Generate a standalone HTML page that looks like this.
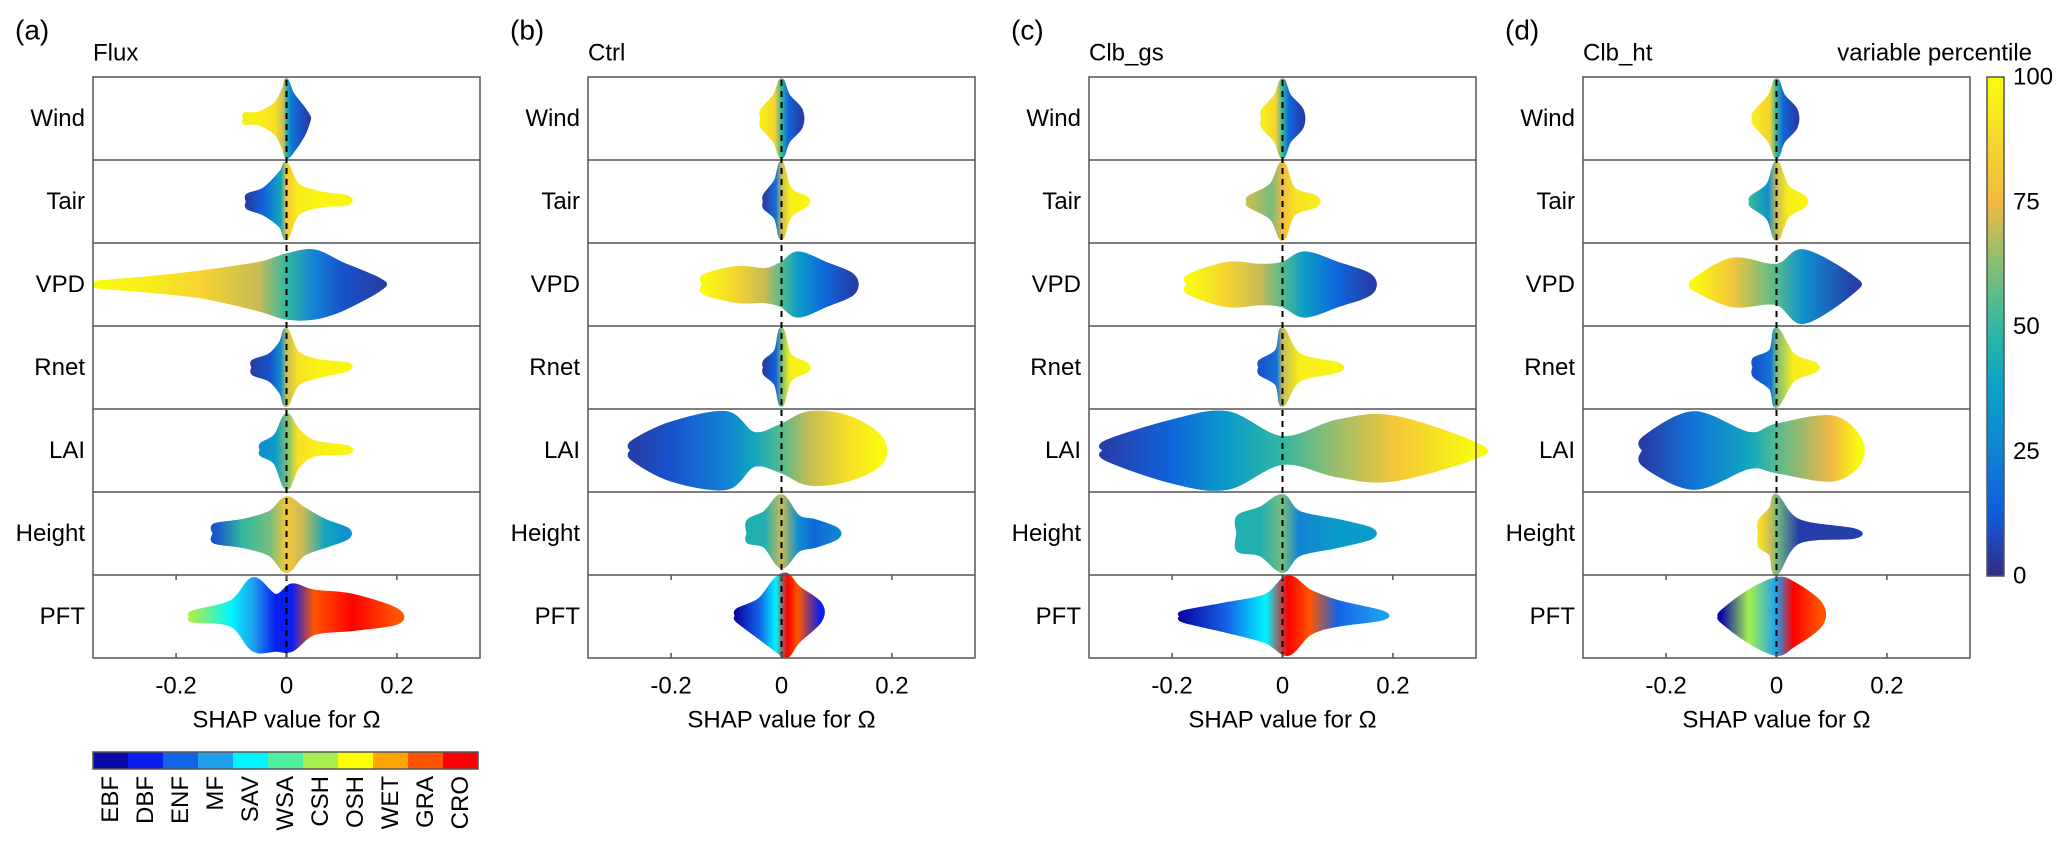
<!DOCTYPE html>
<html><head><meta charset="utf-8"><style>
body{margin:0;background:#fff;}
svg{display:block;font-family:"Liberation Sans",Arial,sans-serif;}
</style></head><body>
<svg id="fig" width="2067" height="849" viewBox="0 0 2067 849" xmlns="http://www.w3.org/2000/svg">
<defs id="defs"></defs>
</svg>
<script>
const features=["Wind","Tair","VPD","Rnet","LAI","Height","PFT"];
const panelTitles=["Flux","Ctrl","Clb_gs","Clb_ht"];
const panelTags=["(a)","(b)","(c)","(d)"];
const xTicks=[-0.2,0,0.2];
const xTickLabels=["-0.2","0","0.2"];
const cbTicks=[0,25,50,75,100];
const pftNames=["EBF","DBF","ENF","MF","SAV","WSA","CSH","OSH","WET","GRA","CRO"];
const pftColors=["#0a0aa8","#0a1ef0","#1464e6","#1ea0ee","#00f4ff","#50eea0","#a6f050","#ffff00","#ffa500","#ff5500","#ff0000"];
const shapX=[
 [[-0.075,-0.05,-0.02,-0.005,0,0.01,0.03,0.04],[-0.07,-0.04,-0.01,0,0.02,0.06,0.11],[-0.34,-0.25,-0.15,-0.05,0,0.05,0.1,0.17],[-0.06,-0.03,-0.01,0,0.02,0.06,0.11],[-0.045,-0.02,0,0.02,0.05,0.11],[-0.13,-0.08,-0.03,0,0.03,0.07,0.11],[-0.17,-0.1,-0.06,-0.02,0.01,0.05,0.12,0.2]],
 [[-0.035,-0.012,0,0.012,0.035],[-0.03,-0.01,0,0.015,0.045],[-0.14,-0.08,-0.03,0,0.03,0.08,0.13],[-0.03,-0.01,0,0.015,0.045],[-0.27,-0.2,-0.1,-0.05,0,0.05,0.12,0.18],[-0.06,-0.03,0,0.03,0.06,0.1],[-0.08,-0.04,-0.01,0.01,0.03,0.07]],
 [[-0.035,-0.012,0,0.012,0.035],[-0.06,-0.02,0,0.02,0.06],[-0.17,-0.1,-0.04,0,0.04,0.1,0.16],[-0.04,-0.01,0,0.03,0.1],[-0.32,-0.2,-0.1,0,0.1,0.2,0.35],[-0.08,-0.04,0,0.03,0.1,0.16],[-0.18,-0.1,-0.03,0.01,0.05,0.1,0.18]],
 [[-0.04,-0.012,0,0.012,0.035],[-0.045,-0.015,0,0.02,0.05],[-0.15,-0.08,0,0.05,0.14],[-0.04,-0.01,0,0.03,0.07],[-0.24,-0.15,-0.05,0,0.1,0.15],[-0.03,-0.01,0,0.04,0.14],[-0.1,-0.05,0,0.03,0.08]]
];
const shapUp=[
 [[0.1,0.12,0.35,0.7,0.92,0.6,0.25,0.05],[0.15,0.3,0.7,0.9,0.4,0.2,0.1],[0.05,0.15,0.3,0.5,0.7,0.8,0.5,0.1],[0.15,0.3,0.6,0.9,0.35,0.15,0.08],[0.15,0.35,0.85,0.5,0.2,0.08],[0.2,0.3,0.5,0.85,0.6,0.3,0.1],[0.1,0.35,0.9,0.5,0.75,0.6,0.5,0.15]],
 [[0.2,0.55,0.92,0.55,0.2],[0.15,0.5,0.92,0.3,0.08],[0.2,0.4,0.35,0.5,0.75,0.5,0.2],[0.15,0.4,0.92,0.3,0.08],[0.2,0.65,0.9,0.4,0.6,0.9,0.8,0.3],[0.3,0.5,0.9,0.4,0.3,0.1],[0.15,0.4,0.9,1.0,0.7,0.3]],
 [[0.2,0.55,0.92,0.55,0.2],[0.1,0.4,0.92,0.3,0.1],[0.2,0.5,0.45,0.5,0.75,0.5,0.2],[0.15,0.4,0.92,0.3,0.08],[0.2,0.7,0.9,0.3,0.7,0.8,0.15],[0.4,0.6,0.9,0.5,0.3,0.1],[0.1,0.3,0.5,0.95,0.6,0.35,0.1]],
 [[0.12,0.55,0.92,0.55,0.2],[0.1,0.4,0.92,0.35,0.1],[0.1,0.6,0.45,0.8,0.15],[0.2,0.4,0.92,0.3,0.08],[0.3,0.9,0.4,0.6,0.8,0.3],[0.3,0.6,0.9,0.3,0.08],[0.1,0.6,0.9,0.8,0.3]]
];
const shapDn=[
 [[0.1,0.12,0.35,0.7,0.92,0.8,0.4,0.05],[0.15,0.3,0.6,0.88,0.3,0.1,0.05],[0.05,0.15,0.3,0.6,0.8,0.8,0.6,0.1],[0.15,0.3,0.6,0.9,0.4,0.2,0.05],[0.1,0.3,0.9,0.4,0.1,0.05],[0.2,0.3,0.5,0.9,0.5,0.3,0.1],[0.1,0.2,0.8,0.8,0.8,0.4,0.3,0.15]],
 [[0.2,0.55,0.92,0.55,0.2],[0.15,0.4,0.88,0.35,0.08],[0.2,0.4,0.4,0.5,0.75,0.5,0.2],[0.15,0.4,0.9,0.3,0.08],[0.2,0.7,0.9,0.35,0.5,0.8,0.7,0.3],[0.2,0.3,0.8,0.4,0.3,0.1],[0.1,0.5,0.8,0.95,0.6,0.1]],
 [[0.2,0.55,0.92,0.55,0.2],[0.1,0.4,0.9,0.3,0.1],[0.2,0.5,0.45,0.5,0.75,0.5,0.2],[0.15,0.4,0.9,0.3,0.08],[0.2,0.75,0.9,0.3,0.6,0.7,0.15],[0.4,0.5,0.9,0.5,0.3,0.1],[0.1,0.35,0.6,0.9,0.4,0.2,0.05]],
 [[0.12,0.55,0.92,0.55,0.2],[0.1,0.4,0.9,0.35,0.1],[0.1,0.5,0.45,0.9,0.15],[0.2,0.5,0.92,0.3,0.08],[0.35,0.9,0.4,0.5,0.7,0.3],[0.3,0.5,0.95,0.2,0.08],[0.1,0.6,0.9,0.7,0.2]]
];
const shapColor=[
 [[95,95,90,70,45,20,8,5],[5,15,40,80,95,98,98],[100,95,85,70,50,25,10,5],[5,10,30,70,90,98,98],[30,35,60,90,95,98],[10,50,60,80,70,40,30],[6,4,3,1,1,9,10,9]],
 [[95,85,50,15,5],[5,20,70,95,98],[100,85,70,55,35,15,5],[5,15,60,95,98],[5,10,25,40,55,70,90,100],[45,45,70,30,15,25],[0,2,4,10,9,1]],
 [[95,85,50,15,5],[70,60,75,90,95],[100,85,70,55,35,15,5],[10,20,70,95,98],[5,15,35,50,65,80,100],[45,45,60,25,35,35],[0,2,4,10,9,2,3]],
 [[95,85,50,15,5],[50,30,70,95,98],[100,80,55,30,5],[10,20,60,95,98],[5,20,40,55,75,100],[90,70,60,5,5],[0,6,3,10,9]]
];
const panelLeft=[93,588,1089,1583];
const axTop=77,rowH=83,axW=387,pxPerUnit=552;
const parula=[[0,"#352a87"],[0.125,"#0f5ddd"],[0.25,"#1283d4"],[0.375,"#08a2c6"],[0.5,"#33b7a0"],[0.625,"#86bf74"],[0.75,"#f3b843"],[0.875,"#f6d82c"],[1,"#f9fb0e"]];
function hex(c){return [1,3,5].map(i=>parseInt(c.substr(i,2),16));}
function cmap(p){p=Math.max(0,Math.min(100,p))/100;for(let i=1;i<parula.length;i++){if(p<=parula[i][0]){const a=parula[i-1],b=parula[i];const t=(p-a[0])/(b[0]-a[0]);const ca=hex(a[1]),cb=hex(b[1]);return "rgb("+ca.map((v,k)=>Math.round(v+(cb[k]-v)*t)).join(",")+")";}}return parula[parula.length-1][1];}
const NS="http://www.w3.org/2000/svg";
const svg=document.getElementById('fig'),defs=document.getElementById('defs');
function mk(tag,attrs,parent){const e=document.createElementNS(NS,tag);for(const k in attrs)e.setAttribute(k,attrs[k]);(parent||svg).appendChild(e);return e;}
function txt(s,x,y,size,anchor,parent){const t=mk('text',{x:x,y:y,'font-size':size,'text-anchor':anchor||'start','dominant-baseline':'central',fill:'#000'},parent);t.textContent=s;return t;}
// Catmull-Rom smooth path through points (continuing existing path)
function smooth(pts){let d="";for(let i=0;i<pts.length-1;i++){const p0=pts[Math.max(0,i-1)],p1=pts[i],p2=pts[i+1],p3=pts[Math.min(pts.length-1,i+2)];
  const c1=[p1[0]+(p2[0]-p0[0])/6,p1[1]+(p2[1]-p0[1])/6],c2=[p2[0]-(p3[0]-p1[0])/6,p2[1]-(p3[1]-p1[1])/6];
  d+=" C"+c1[0].toFixed(1)+","+c1[1].toFixed(1)+" "+c2[0].toFixed(1)+","+c2[1].toFixed(1)+" "+p2[0].toFixed(1)+","+p2[1].toFixed(1);}return d;}
for(let p=0;p<4;p++){
  const L=panelLeft[p];
  const xs=v=>L+axW/2+v*pxPerUnit;
  const g=mk('g',{});
  
  
  const tag=txt(panelTags[p],L-78,30,28,'start',g);
  
  
  const ttl=txt(panelTitles[p],L,53,24,'start',g);
  
  
  for(let r=0;r<7;r++){
    const cy=axTop+r*rowH+rowH/2, half=rowH/2;
    const X=shapX[p][r],U=shapUp[p][r],D=shapDn[p][r],C=shapColor[p][r];
    const gid='g'+p+'_'+r;
    const lg=mk('linearGradient',{id:gid,gradientUnits:'userSpaceOnUse',x1:xs(X[0]),x2:xs(X[X.length-1]),y1:0,y2:0},defs);
    const span=X[X.length-1]-X[0];
    X.forEach((v,i)=>{mk('stop',{offset:((v-X[0])/span).toFixed(4),'stop-color':r===6?pftColors[C[i]]:cmap(C[i])},lg);});
    const top=[[xs(X[0]),cy]].concat(X.map((v,i)=>[xs(v),cy-U[i]*half]));
    const botPts=X.map((v,i)=>[xs(v),cy+D[i]*half]).reverse().concat([[xs(X[0]),cy]]);
    const allPts=top.concat(botPts);
    let d="M"+allPts[0][0].toFixed(1)+","+allPts[0][1].toFixed(1)+smooth(allPts)+" Z";
    const sh=mk('path',{d:d,fill:'url(#'+gid+')',stroke:'url(#'+gid+')','stroke-width':4,'stroke-linejoin':'round'},g);
    
    
    const rl=txt(features[r],L-8,cy,24,'end',g);
    
    
    if(r>0){const ln=mk('line',{x1:L,x2:L+axW,y1:axTop+r*rowH,y2:axTop+r*rowH,stroke:'#555','stroke-width':1.5},g);
      
      }
  }
  const bot=axTop+7*rowH;
  const zl=mk('line',{x1:xs(0),x2:xs(0),y1:axTop+3,y2:bot,stroke:'#000','stroke-width':2,'stroke-dasharray':'6,5'},g);
  
  
  const box=mk('rect',{x:L,y:axTop,width:axW,height:7*rowH,fill:'none',stroke:'#555','stroke-width':1.5},g);
  
  
  xTicks.forEach((v,i)=>{
    mk('line',{x1:xs(v),x2:xs(v),y1:bot,y2:bot-5,stroke:'#555','stroke-width':1.5},g);
    mk('line',{x1:xs(v),x2:xs(v),y1:bot-rowH,y2:bot-rowH+5,stroke:'#555','stroke-width':1.5},g);
    const tl=txt(xTickLabels[i],xs(v),686,24,'middle',g);
    
    
  });
  const xl=mk('text',{x:L+axW/2,y:720,'font-size':24,'text-anchor':'middle','dominant-baseline':'central'},g);
  xl.textContent="SHAP value for Ω";
  
  
}
const cbX=1987,cbW=17,cbT=77,cbB=576;
const cg=mk('linearGradient',{id:'cbg',x1:0,y1:1,x2:0,y2:0},defs);
parula.forEach(s=>mk('stop',{offset:s[0],'stop-color':s[1]},cg));
const cb=mk('rect',{x:cbX,y:cbT,width:cbW,height:cbB-cbT,fill:'url(#cbg)',stroke:'#555','stroke-width':1.5});


cbTicks.forEach(v=>{const y=cbB-(v/100)*(cbB-cbT);const t=txt(String(v),2013,y,24,'start');
  
  });
const cbt=txt("variable percentile",2032,53,24,'end');


const pg=mk('g',{});


const cw=35;
pftNames.forEach((n,i)=>{
  const x=93+i*cw;
  const rc=mk('rect',{x:x,y:752,width:cw,height:17,fill:pftColors[i]},pg);
  
  
  const t=mk('text',{x:0,y:0,'font-size':24,'text-anchor':'end','dominant-baseline':'central',transform:'translate('+(x+cw/2)+',776) rotate(-90)'},pg);
  t.textContent=n;
  
  
});
mk('rect',{x:93,y:752,width:cw*11,height:17,fill:'none',stroke:'#555','stroke-width':1.5},pg);
</script>
</body></html>
